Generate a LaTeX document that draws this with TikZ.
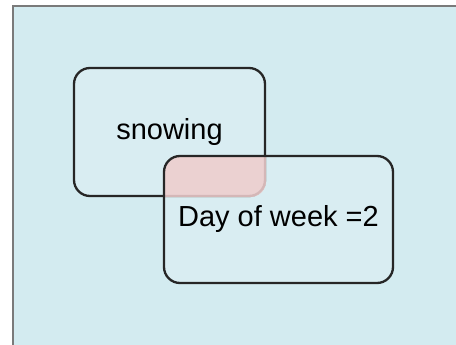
\documentclass[tikz,border=0pt]{standalone}
\usepackage{fontspec}
\setmainfont{Liberation Sans}
\usepackage{xcolor}
\usetikzlibrary{positioning}
\definecolor{panelbg}{HTML}{D3EBF0}
\definecolor{panelline}{HTML}{7A7A7A}
\definecolor{overlap}{HTML}{EBC3C3}

\begin{document}
\begin{tikzpicture}[x=1pt,y=-1pt,
  venn/.style={draw=black!85,line width=2.3pt,rounded corners=16pt,
    fill=white,fill opacity=0.15,text opacity=1,inner sep=0pt,
    font=\fontsize{29}{34}\selectfont}]
  \useasboundingbox (0,0) rectangle (456,345);
  % panel
  \fill[panelbg] (13,6) rectangle (456,345);
  \draw[panelline,line width=1.5pt] (13,345) -- (13,6) -- (456,6);
  % the two sets
  \node[venn,minimum width=191pt,minimum height=128pt] (snow) at (169.5,132) {snowing};
  \begin{scope}
    \clip[rounded corners=16pt] (snow.south west) rectangle (snow.north east);
    \fill[overlap,opacity=0.85,rounded corners=16pt] (164,156) rectangle (393,283);
  \end{scope}
  \node[venn,minimum width=229pt,minimum height=127pt] (dow) at (278.5,219.5) {Day of week =2};
\end{tikzpicture}
\end{document}
